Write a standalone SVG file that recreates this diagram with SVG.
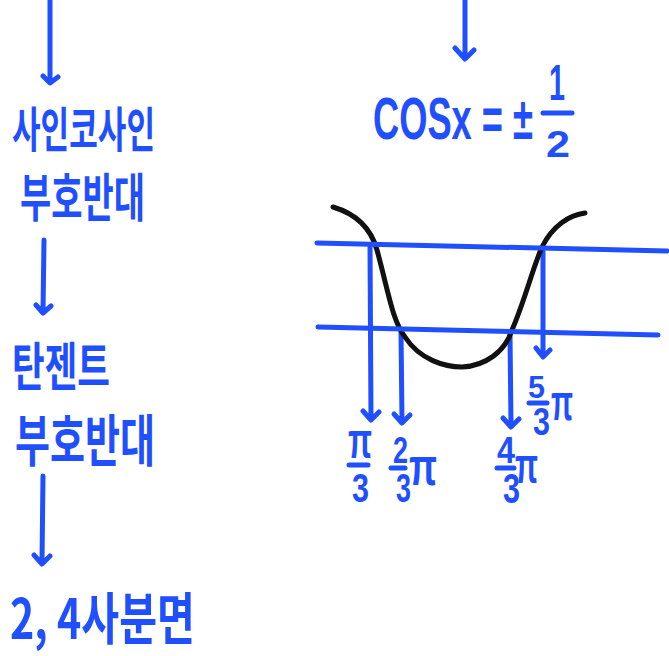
<svg xmlns="http://www.w3.org/2000/svg" width="669" height="656" viewBox="0 0 669 656">
<defs>
<linearGradient id="fade" x1="0" y1="0" x2="1" y2="0">
<stop offset="0" stop-color="#1f4fff"/>
<stop offset="0.6" stop-color="#4f6fe8"/>
<stop offset="1" stop-color="#b8bccc"/>
</linearGradient>
<style>
.b{stroke:#1f4fff;stroke-width:5;stroke-linecap:round;stroke-linejoin:round;fill:none}
.k{stroke:#111;stroke-width:5;stroke-linecap:round;fill:none}
.t{fill:#1f4fff;font-family:"Noto Sans CJK KR","Noto Sans",sans-serif;font-weight:bold}
.m{fill:#1f4fff;font-family:"Liberation Sans","Noto Sans",sans-serif;font-weight:bold}
</style>
</defs>
<rect width="669" height="656" fill="#fff"/>
<g id="connectors">
<line x1="20" y1="0" x2="190" y2="0" stroke="url(#fade)" stroke-width="5" stroke-linecap="round"/>
<path class="b" d="M50 0 V82 M43 76 L50 83 L58 77"/>
<path class="b" d="M44 240 L43 312 M36 305 L43 313 L51 306"/>
<path class="b" d="M43 476 L42 562 M34 555 L42 564 L50 556"/>
<path class="b" d="M465 0 V58 M455 48 L465 59 L474 50"/>
<path class="b" d="M370 245 L371 418 M363 411 L371 420 L379 412"/>
<path class="b" d="M401 332 L402 421 M394 414 L402 423 L410 415"/>
<path class="b" d="M510 335 L511 425 M503 418 L511 427 L519 419"/>
<path class="b" d="M543 252 L543 355 M536 348 L543 357 L550 350"/>
</g>
<g id="graph">
<path class="k" d="M333 207 C360 215 372 232 377 250 C388 290 392 320 405 337 C420 360 445 367 462 367 C485 366 505 352 512 330 C525 300 532 270 542 247 C553 225 570 215 585 213"/>
<line class="b" x1="317" y1="243" x2="667" y2="251"/>
<line class="b" x1="318" y1="327" x2="658" y2="335"/>
</g>
<g id="n-sincos">
<text class="t" x="12" y="147" font-size="48" textLength="143" lengthAdjust="spacingAndGlyphs">사인코사인</text>
<text class="t" x="20" y="217" font-size="52" textLength="125" lengthAdjust="spacingAndGlyphs">부호반대</text>
</g>
<g id="n-tan">
<text class="t" x="12" y="386" font-size="52" textLength="98" lengthAdjust="spacingAndGlyphs">탄젠트</text>
<text class="t" x="15" y="461" font-size="56" textLength="140" lengthAdjust="spacingAndGlyphs">부호반대</text>
</g>
<g id="n-quad">
<text class="t" x="10" y="639" font-size="56" textLength="185" lengthAdjust="spacingAndGlyphs">2, 4사분면</text>
</g>
<g id="n-eq">
<text class="m" x="373" y="139" font-size="60" textLength="160" lengthAdjust="spacingAndGlyphs">COSx = ±</text>
<text class="m" x="549" y="100" font-size="50" textLength="16" lengthAdjust="spacingAndGlyphs">1</text>
<line class="b" x1="543" y1="113" x2="572" y2="113"/>
<text class="m" x="546" y="157" font-size="36" textLength="24" lengthAdjust="spacingAndGlyphs">2</text>
</g>
<g id="n-pi3">
<text class="m" x="348" y="458" font-size="50" textLength="24" lengthAdjust="spacingAndGlyphs">π</text>
<line class="b" x1="349" y1="465" x2="368" y2="465"/>
<text class="m" x="352" y="502" font-size="40" textLength="17" lengthAdjust="spacingAndGlyphs">3</text>
</g>
<g id="n-2pi3">
<text class="m" x="393" y="463" font-size="36" textLength="15" lengthAdjust="spacingAndGlyphs">2</text>
<line class="b" x1="391" y1="468" x2="405" y2="468"/>
<text class="m" x="396" y="502" font-size="40" textLength="15" lengthAdjust="spacingAndGlyphs">3</text>
<text class="m" x="409" y="485" font-size="54" textLength="28" lengthAdjust="spacingAndGlyphs">π</text>
</g>
<g id="n-4pi3">
<text class="m" x="497" y="463" font-size="36" textLength="18" lengthAdjust="spacingAndGlyphs">4</text>
<line class="b" x1="497" y1="468" x2="514" y2="468"/>
<text class="m" x="503" y="503" font-size="42" textLength="17" lengthAdjust="spacingAndGlyphs">3</text>
<text class="m" x="515" y="483" font-size="50" textLength="23" lengthAdjust="spacingAndGlyphs">π</text>
</g>
<g id="n-5pi3">
<text class="m" x="528" y="398" font-size="32" textLength="17" lengthAdjust="spacingAndGlyphs">5</text>
<line class="b" x1="529" y1="403" x2="547" y2="403"/>
<text class="m" x="533" y="435" font-size="38" textLength="17" lengthAdjust="spacingAndGlyphs">3</text>
<text class="m" x="551" y="420" font-size="52" textLength="22" lengthAdjust="spacingAndGlyphs">π</text>
</g>
</svg>
